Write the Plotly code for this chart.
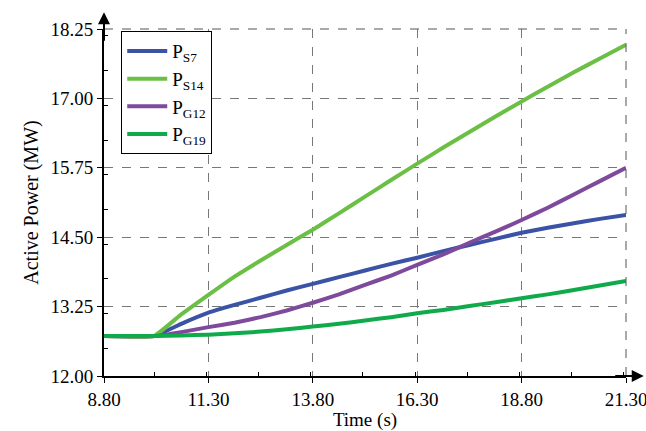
import plotly.graph_objects as go

time = [8.8, 10.0, 10.65, 11.3, 11.925, 12.55, 13.175, 13.8, 14.425, 15.05, 15.675, 16.3,
        16.925, 17.55, 18.175, 18.8, 19.425, 20.05, 20.675, 21.3]
p_s7 = [12.72, 12.72, 12.94, 13.14, 13.28, 13.41, 13.54, 13.66, 13.78, 13.90, 14.02, 14.13,
        14.25, 14.36, 14.47, 14.58, 14.67, 14.75, 14.83, 14.90]
p_s14 = [12.72, 12.72, 13.11, 13.46, 13.79, 14.08, 14.36, 14.635, 14.93, 15.23, 15.53, 15.825,
         16.115, 16.395, 16.675, 16.945, 17.21, 17.47, 17.72, 17.965]
p_g12 = [12.72, 12.72, 12.79, 12.88, 12.96, 13.06, 13.18, 13.32, 13.47, 13.64, 13.81, 14.00,
         14.19, 14.40, 14.60, 14.81, 15.03, 15.27, 15.51, 15.75]
p_g19 = [12.72, 12.72, 12.73, 12.745, 12.77, 12.80, 12.84, 12.89, 12.94, 13.00, 13.06, 13.13,
         13.19, 13.26, 13.33, 13.40, 13.47, 13.55, 13.63, 13.71]

series = [
    ("P<sub>S7</sub>", p_s7, "#3A53A4"),
    ("P<sub>S14</sub>", p_s14, "#6CBF45"),
    ("P<sub>G12</sub>", p_g12, "#7D4A9C"),
    ("P<sub>G19</sub>", p_g19, "#0FAA4A"),
]

FONT = "Liberation Serif"

fig = go.Figure()
for name, vals, col in series:
    fig.add_trace(go.Scatter(x=time, y=vals, mode="lines", name=name,
                             line=dict(color=col, width=4, shape="spline", smoothing=0.3)))

grid = dict(showgrid=True, gridcolor="#777777", griddash="dash", gridwidth=1)
fig.update_xaxes(range=[8.8, 21.3001], tick0=8.8, dtick=2.5, tickformat=".2f",
                 showline=True, linecolor="black", linewidth=2, automargin=False,
                 ticks="outside", ticklen=5, tickcolor="black", ticklabeloverflow="allow",
                 minor=dict(ticks="inside", ticklen=4, dtick=1.25, tickcolor="black", showgrid=False),
                 zeroline=False,
                 title=dict(text="Time (s)", standoff=3,
                            font=dict(size=19, family=FONT, color="black")),
                 tickfont=dict(size=19, family=FONT, color="black"), **grid)
fig.update_yaxes(range=[12.0, 18.2501], tick0=12.0, dtick=1.25, tickformat=".2f",
                 showline=True, linecolor="black", linewidth=2, automargin=False,
                 ticks="outside", ticklen=5, tickcolor="black", ticklabeloverflow="allow",
                 minor=dict(ticks="inside", ticklen=4, dtick=0.625, tickcolor="black", showgrid=False),
                 zeroline=False,
                 title=dict(text="Active Power (MW)", standoff=6,
                            font=dict(size=20, family=FONT, color="black")),
                 tickfont=dict(size=19, family=FONT, color="black"), **grid)

# dashed border at top and right
fig.add_shape(type="line", xref="paper", yref="paper", x0=0, x1=1, y0=1, y1=1,
              line=dict(color="#555555", width=1, dash="dash"))
fig.add_shape(type="line", xref="paper", yref="paper", x0=1, x1=1, y0=0, y1=1,
              line=dict(color="#555555", width=1, dash="dash"))

# axis arrows
fig.add_annotation(x=0, y=1.048, xref="paper", yref="paper", ax=0, ay=30, text="",
                   showarrow=True, arrowhead=2, arrowsize=1.2, arrowwidth=2, arrowcolor="black")
fig.add_annotation(x=1.034, y=0, xref="paper", yref="paper", ax=-30, ay=0, text="",
                   showarrow=True, arrowhead=2, arrowsize=1.2, arrowwidth=2, arrowcolor="black")

fig.update_layout(
    width=646, height=431,
    margin=dict(l=104, r=20, t=29, b=55),
    plot_bgcolor="white", paper_bgcolor="white",
    font=dict(family=FONT, color="black", size=18),
    legend=dict(x=0.033, y=0.994, xanchor="left", yanchor="top",
                bordercolor="black", borderwidth=1, bgcolor="white",
                font=dict(size=19, family=FONT, color="black"),
                itemwidth=40),
    showlegend=True,
)

fig.write_html("out.html")
